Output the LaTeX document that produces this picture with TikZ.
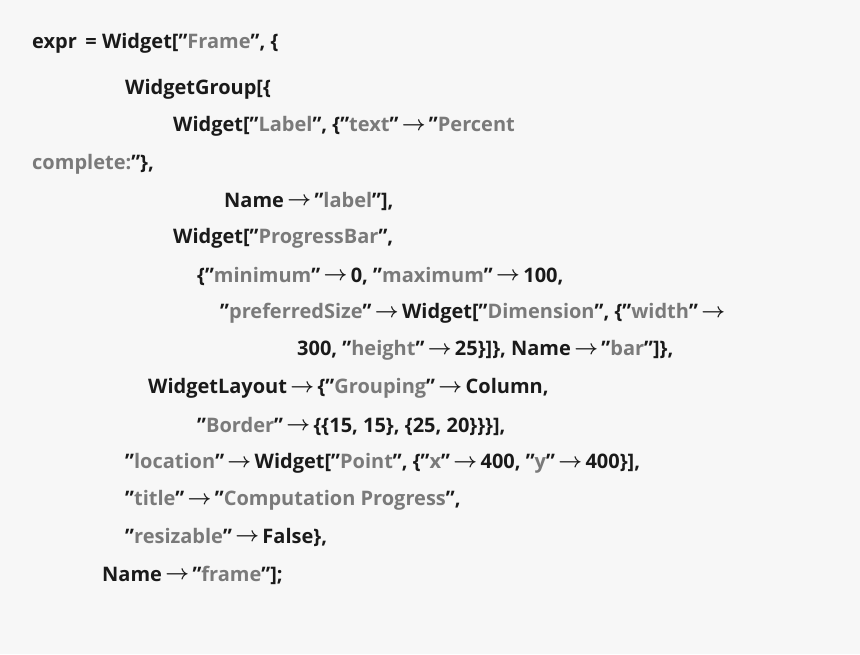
\documentclass[tikz,border=0pt]{standalone}
\usepackage{amsmath}
\usepackage{fontspec}
\setmainfont{Open Sans}
\definecolor{bg}{HTML}{F7F7F7}
\definecolor{ink}{HTML}{1A1A1A}
\definecolor{str}{HTML}{7A7A7A}
\newcommand{\gs}[1]{\textcolor{str}{#1}}
\newcommand{\ra}{\,\raisebox{0.1ex}{$\boldsymbol{\rightarrow}$}\,}
\begin{document}
\begin{tikzpicture}[x=1pt,y=-1pt,
  ln/.style={anchor=west,inner sep=0pt,text=ink,font=\fontsize{20}{24}\selectfont\bfseries}]
\fill[bg] (0,0) rectangle (860,654);
\node[ln] (l1) at (32,43) {expr\ \,= Widget["\gs{Frame}", \{};
\node[ln] (l2) at (125,89) {WidgetGroup[\{};
\node[ln] (l3) at (173,126) {Widget["\gs{Label}", \{"\gs{text}"\ra"\gs{Percent}};
\node[ln] (l4) at (32,164) {\gs{complete:}"\},};
\node[ln] (l5) at (224,201) {Name\ra"\gs{label}"],};
\node[ln] (l6) at (173,238) {Widget["\gs{ProgressBar}",};
\node[ln] (l7) at (197,276) {\{"\gs{minimum}"\ra0, "\gs{maximum}"\ra100,};
\node[ln] (l8) at (220,313) {"\gs{preferredSize}"\ra Widget["\gs{Dimension}", \{"\gs{width}"\ra};
\node[ln] (l9) at (297,350) {300, "\gs{height}"\ra25\}]\}, Name\ra"\gs{bar}"]\},};
\node[ln] (l10) at (148,388) {WidgetLayout\ra\{"\gs{Grouping}"\ra Column,};
\node[ln] (l11) at (197,426) {"\gs{Border}"\ra\{\{15, 15\}, \{25, 20\}\}\}],};
\node[ln] (l12) at (125,463) {"\gs{location}"\ra Widget["\gs{Point}", \{"\gs{x}"\ra400, "\gs{y}"\ra400\}],};
\node[ln] (l13) at (125,500) {"\gs{title}"\ra"\gs{Computation Progress}",};
\node[ln] (l14) at (125,537) {"\gs{resizable}"\ra False\},};
\node[ln] (l15) at (102,575) {Name\ra"\gs{frame}"];};
\end{tikzpicture}
\end{document}
